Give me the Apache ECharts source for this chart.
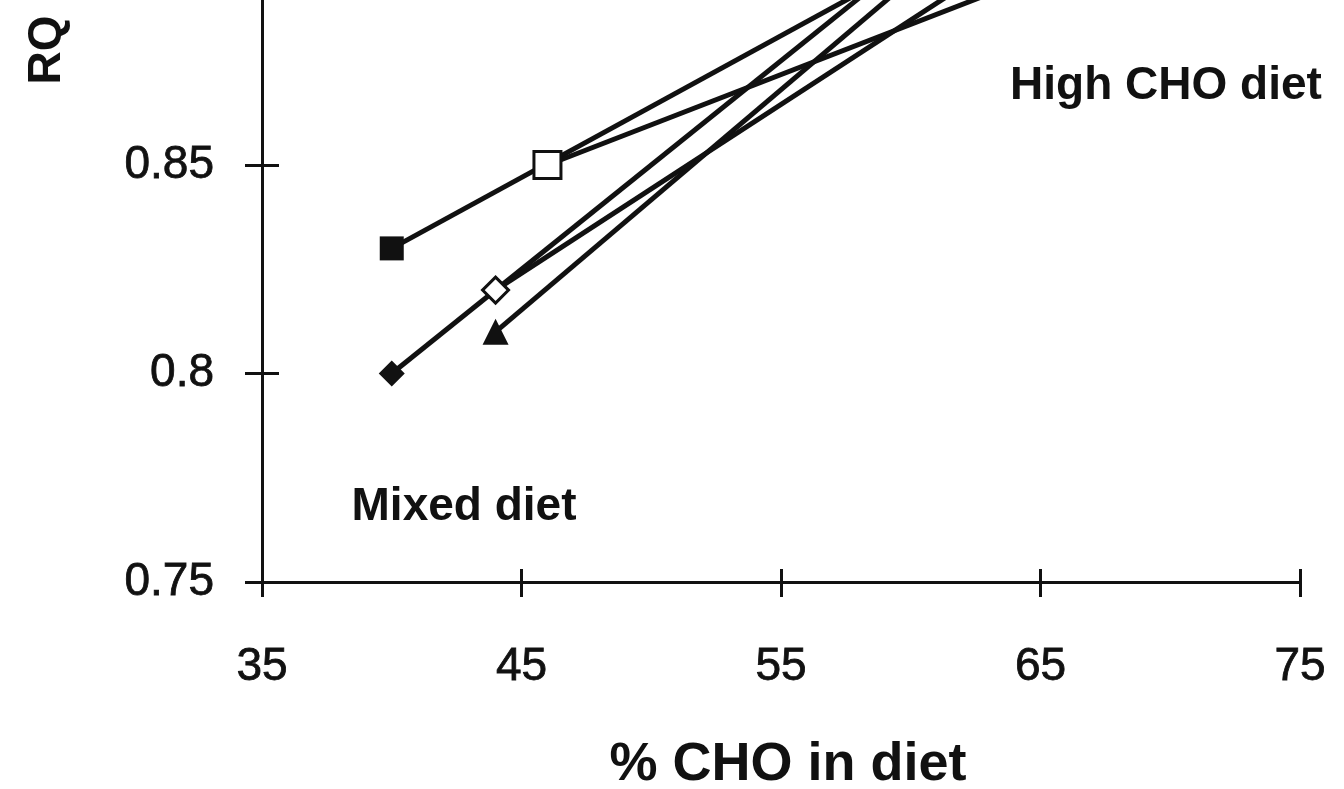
<!DOCTYPE html>
<html>
<head>
<meta charset="utf-8">
<title>RQ vs % CHO in diet</title>
<script src="https://cdn.jsdelivr.net/npm/echarts@6/dist/echarts.min.js"></script>
<style>
  html, body { margin: 0; padding: 0; background: #ffffff; }
  #chart { width: 1344px; height: 789px; }
</style>
</head>
<body>
<div id="chart"></div>
<script>
// Each group: [mixed-diet point, high-CHO-diet point] as [% CHO, RQ]
const groupFilledSquare   = [[40, 0.83], [65, 0.915]];
const groupOpenSquare     = [[46, 0.85], [68, 0.903]];
const groupFilledDiamond  = [[40, 0.80], [60, 0.90]];
const groupOpenDiamond    = [[44, 0.82], [65, 0.905]];
const groupFilledTriangle = [[44, 0.81], [62, 0.905]];

// Axis ranges and tick spacing
const xRange = [35, 75];
const xStep = 10;
const yRange = [0.75, 1.0];
const yStep = 0.05;

// Annotation texts
const axisTitleX = '% CHO in diet';
const axisTitleY = 'RQ';
const noteMixed = 'Mixed diet';
const noteHigh = 'High CHO diet';

const FONT = '"Liberation Sans", Arial, Helvetica, sans-serif';
const INK = '#111111';

const chart = echarts.init(document.getElementById('chart'), null, { renderer: 'canvas' });

function groupSeries(name, data, symbol, filled, size) {
  return {
    name: name,
    type: 'line',
    data: data,
    symbol: symbol,
    symbolSize: size,
    showSymbol: true,
    xAxisIndex: 0,
    yAxisIndex: 0,
    lineStyle: { color: INK, width: 5 },
    itemStyle: filled
      ? { color: INK, borderColor: INK, borderWidth: 0 }
      : { color: '#ffffff', borderColor: INK, borderWidth: 3 },
    emphasis: { disabled: true },
    animation: false,
    z: filled ? 2 : 3
  };
}

const tickLabelStyle = {
  color: INK, fontSize: 46, fontFamily: FONT,
  textBorderColor: INK, textBorderWidth: 0.8
};

const xAxisBase = {
  type: 'value',
  min: xRange[0],
  max: xRange[1],
  interval: xStep,
  splitLine: { show: false },
  gridIndex: 0
};
const yAxisBase = {
  type: 'value',
  min: yRange[0],
  max: yRange[1],
  interval: yStep,
  splitLine: { show: false },
  gridIndex: 0
};

const option = {
  backgroundColor: '#ffffff',
  animation: false,
  grid: {
    left: 262,
    right: 44,
    top: -460.5,
    bottom: 207,
    containLabel: false,
    outerBoundsMode: 'none'
  },
  xAxis: [
    Object.assign({}, xAxisBase, {
      position: 'bottom',
      axisLine: { show: true, lineStyle: { color: INK, width: 3 } },
      axisTick: { show: true, inside: false, length: 15, lineStyle: { color: INK, width: 3 } },
      axisLabel: Object.assign({ show: true, margin: 62 }, tickLabelStyle)
    }),
    Object.assign({}, xAxisBase, {
      position: 'bottom',
      axisLine: { show: false },
      axisTick: { show: true, inside: true, length: 13, lineStyle: { color: INK, width: 3 } },
      axisLabel: { show: false }
    })
  ],
  yAxis: [
    Object.assign({}, yAxisBase, {
      position: 'left',
      axisLine: { show: true, lineStyle: { color: INK, width: 3 } },
      axisTick: { show: true, inside: false, length: 17, lineStyle: { color: INK, width: 3 } },
      axisLabel: Object.assign({ show: true, margin: 48 }, tickLabelStyle)
    }),
    Object.assign({}, yAxisBase, {
      position: 'left',
      axisLine: { show: false },
      axisTick: { show: true, inside: true, length: 17, lineStyle: { color: INK, width: 3 } },
      axisLabel: { show: false }
    })
  ],
  series: [
    groupSeries('Filled square group', groupFilledSquare, 'rect', true, 24),
    groupSeries('Filled diamond group', groupFilledDiamond, 'diamond', true, 26),
    groupSeries('Filled triangle group', groupFilledTriangle, 'triangle', true, 26),
    groupSeries('Open square group', groupOpenSquare, 'rect', false, 27),
    groupSeries('Open diamond group', groupOpenDiamond, 'diamond', false, 26)
  ],
  graphic: [
    {
      type: 'text', x: 47, y: 50, rotation: Math.PI / 2,
      style: { text: axisTitleY, font: 'bold 46px ' + FONT, fill: INK,
               align: 'center', verticalAlign: 'middle',
               textAlign: 'center', textVerticalAlign: 'middle' }
    },
    {
      type: 'text', x: 788, y: 765,
      style: { text: axisTitleX, font: 'bold 54px ' + FONT, fill: INK,
               align: 'center', verticalAlign: 'middle',
               textAlign: 'center', textVerticalAlign: 'middle' }
    },
    {
      type: 'text', x: 1166, y: 86,
      style: { text: noteHigh, font: 'bold 46px ' + FONT, fill: INK,
               align: 'center', verticalAlign: 'middle',
               textAlign: 'center', textVerticalAlign: 'middle' }
    },
    {
      type: 'text', x: 464, y: 507,
      style: { text: noteMixed, font: 'bold 46px ' + FONT, fill: INK,
               align: 'center', verticalAlign: 'middle',
               textAlign: 'center', textVerticalAlign: 'middle' }
    }
  ]
};

chart.setOption(option);
</script>
</body>
</html>
